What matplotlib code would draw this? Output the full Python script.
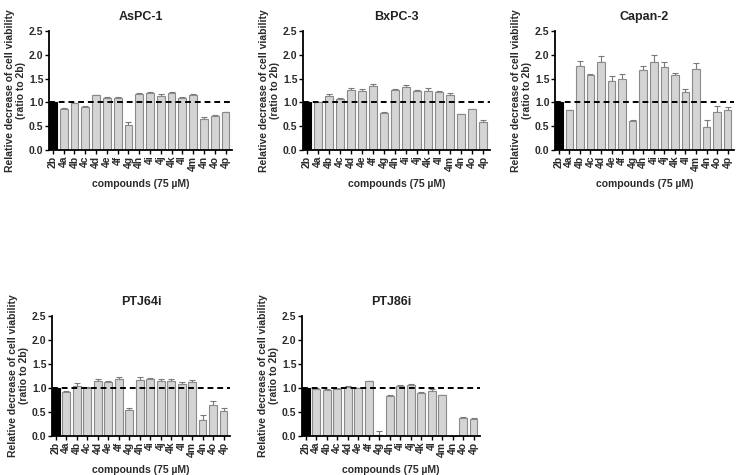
import numpy as np
import matplotlib
matplotlib.use("Agg")
import matplotlib.pyplot as plt

plt.rcParams['font.family'] = ['Liberation Sans', 'DejaVu Sans']
plt.rcParams['font.weight'] = 'bold'

compounds = ['2b', '4a', '4b', '4c', '4d', '4e', '4f', '4g', '4h',
             '4i', '4j', '4k', '4l', '4m', '4n', '4o', '4p']

aspc1 = [1.00, 0.86, 0.98, 0.90, 1.15, 1.10, 1.09, 0.52, 1.17, 1.20, 1.14, 1.19, 1.10, 1.15, 0.65, 0.72, 0.79]
aspc1_err = [0, 0.02, 0.01, 0.02, 0.01, 0.01, 0.02, 0.07, 0.02, 0.02, 0.03, 0.02, 0.01, 0.02, 0.05, 0.01, 0.01]

bxpc3 = [1.00, 1.00, 1.13, 1.07, 1.27, 1.24, 1.34, 0.78, 1.27, 1.32, 1.23, 1.25, 1.22, 1.15, 0.75, 0.86, 0.58]
bxpc3_err = [0, 0.01, 0.04, 0.03, 0.04, 0.04, 0.05, 0.01, 0.02, 0.05, 0.04, 0.05, 0.03, 0.04, 0.01, 0.01, 0.04]

capan2 = [1.00, 0.83, 1.76, 1.58, 1.85, 1.45, 1.49, 0.60, 1.68, 1.84, 1.75, 1.57, 1.21, 1.70, 0.49, 0.79, 0.83]
capan2_err = [0, 0.01, 0.12, 0.02, 0.13, 0.10, 0.10, 0.02, 0.08, 0.15, 0.10, 0.04, 0.07, 0.13, 0.15, 0.14, 0.07]

ptj64i = [1.00, 0.91, 1.05, 1.00, 1.14, 1.12, 1.18, 0.54, 1.17, 1.18, 1.15, 1.15, 1.08, 1.13, 0.33, 0.65, 0.53]
ptj64i_err = [0, 0.02, 0.05, 0.02, 0.04, 0.02, 0.05, 0.05, 0.05, 0.02, 0.03, 0.03, 0.04, 0.03, 0.10, 0.07, 0.06]

ptj86i = [1.00, 0.98, 0.96, 0.98, 1.03, 1.00, 1.14, 0.03, 0.84, 1.05, 1.07, 0.89, 0.94, 0.85, 0.00, 0.38, 0.35]
ptj86i_err = [0, 0.01, 0.01, 0.01, 0.01, 0.01, 0.01, 0.07, 0.01, 0.01, 0.02, 0.02, 0.04, 0.01, 0, 0.01, 0.02]

W, H = 746, 475
fig = plt.figure(figsize=(W / 100, H / 100), dpi=100)

# panel boxes in pixels: left, right, top, bottom
panels = [
    ('AsPC-1', aspc1, aspc1_err, (49, 232, 31, 150)),
    ('BxPC-3', bxpc3, bxpc3_err, (303, 490, 31, 150)),
    ('Capan-2', capan2, capan2_err, (555, 734, 31, 150)),
    ('PTJ64i', ptj64i, ptj64i_err, (52, 230, 316, 436)),
    ('PTJ86i', ptj86i, ptj86i_err, (302, 480, 316, 436)),
]

x = np.arange(len(compounds))
for title, vals, errs, (l, r, t, b) in panels:
    ax = fig.add_axes([l / W, 1 - b / H, (r - l) / W, (b - t) / H])
    colors = ['black'] + ['#d4d4d4'] * (len(vals) - 1)
    edges = ['black'] + ['#8a8a8a'] * (len(vals) - 1)
    ax.bar(x, vals, width=0.72, color=colors, edgecolor=edges, linewidth=0.8, zorder=2)
    ax.errorbar(x, vals, yerr=[np.zeros(len(errs)), errs], fmt='none',
                ecolor='#7a7a7a', elinewidth=0.8, capsize=2.5, capthick=0.8, zorder=1)
    ax.axhline(1.0, color='black', linestyle=(0, (3, 2)), linewidth=1.4, zorder=3)
    ax.set_xlim(-0.36, 16.6)
    ax.set_ylim(0, 2.5)
    ax.set_yticks([0, 0.5, 1.0, 1.5, 2.0, 2.5])
    ax.set_yticklabels(['0.0', '0.5', '1.0', '1.5', '2.0', '2.5'], fontsize=7.5, fontweight='bold', color='#2a2a2a')
    ax.set_xticks(x)
    ax.set_xticklabels(compounds, rotation=90, fontsize=7.5, fontweight='bold', color='#2a2a2a')
    ax.spines['top'].set_visible(False)
    ax.spines['right'].set_visible(False)
    ax.spines['left'].set_linewidth(1.3)
    ax.spines['bottom'].set_linewidth(1.3)
    ax.tick_params(axis='y', length=3, width=1.0, pad=1)
    ax.tick_params(axis='x', length=3, width=1.0, pad=1)
    ax.set_title(title, fontsize=9, fontweight='bold', pad=8, color='#222222')
    ax.set_xlabel('compounds (75 \u00b5M)', fontsize=7.5, fontweight='bold', labelpad=6, color='#2a2a2a')
    ax.set_ylabel('Relative decrease of cell viability\n(ratio to 2b)', fontsize=7.5,
                  fontweight='bold', labelpad=2, color='#2a2a2a')

fig.savefig('out.png', dpi=100, facecolor='white')
